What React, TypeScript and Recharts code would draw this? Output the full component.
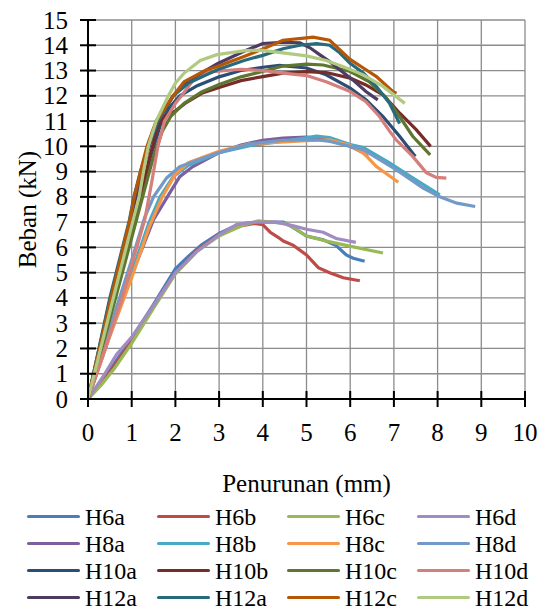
import { LineChart, Line, XAxis, YAxis, CartesianGrid, Label } from "recharts";

type Pt = { x: number; y: number };
const pts = (a: number[][]): Pt[] => a.map(([x, y]) => ({ x, y }));

const X_TICKS = [0, 1, 2, 3, 4, 5, 6, 7, 8, 9, 10];
const Y_TICKS = [0, 1, 2, 3, 4, 5, 6, 7, 8, 9, 10, 11, 12, 13, 14, 15];

const H6a = pts([[0, 0], [0.3, 0.7], [0.6, 1.4], [1, 2.4], [1.5, 3.75], [2, 5.15], [2.3, 5.65], [2.6, 6.1], [3, 6.55], [3.3, 6.8], [3.6, 6.95], [4, 7.0], [4.47, 7.0], [4.66, 6.82], [5.0, 6.45], [5.38, 6.3], [5.68, 6.07], [5.91, 5.7], [6.07, 5.57], [6.33, 5.45]]);
const H6b = pts([[0, 0], [0.3, 0.6], [0.6, 1.3], [1, 2.3], [1.5, 3.7], [2, 5.0], [2.5, 5.9], [3, 6.5], [3.5, 6.85], [3.8, 6.95], [4.0, 6.9], [4.17, 6.6], [4.35, 6.4], [4.47, 6.25], [4.7, 6.08], [5.0, 5.7], [5.27, 5.2], [5.53, 5.0], [5.84, 4.8], [6.22, 4.68]]);
const H6c = pts([[0, 0], [0.3, 0.55], [0.6, 1.2], [1, 2.2], [1.5, 3.6], [2, 4.95], [2.5, 5.85], [3, 6.45], [3.5, 6.85], [3.9, 7.05], [4.2, 7.0], [4.5, 6.95], [4.7, 6.8], [5.0, 6.45], [5.46, 6.25], [6.07, 6.02], [6.75, 5.78]]);
const H6d = pts([[0, 0], [0.35, 0.9], [0.65, 1.75], [1, 2.45], [1.5, 3.7], [2, 5.0], [2.5, 5.85], [3, 6.5], [3.4, 6.9], [3.8, 7.0], [4.3, 7.0], [4.7, 6.85], [5.0, 6.72], [5.38, 6.6], [5.68, 6.35], [6.13, 6.2]]);

const H8a = pts([[0, 0], [0.5, 2.5], [1, 4.9], [1.5, 7.1], [1.85, 8.1], [2.1, 8.8], [2.4, 9.2], [3, 9.75], [3.5, 10.05], [4, 10.24], [4.46, 10.33], [5, 10.37], [5.45, 10.28], [6.0, 10.0], [6.3, 9.74], [6.4, 9.6]]);
const H8b = pts([[0, 0], [0.5, 2.6], [1, 5.0], [1.4, 7.0], [1.65, 8.0], [1.95, 8.8], [2.3, 9.25], [3, 9.75], [3.7, 10.03], [4.46, 10.2], [5.23, 10.4], [5.53, 10.35], [6.0, 10.07], [6.3, 9.95], [6.9, 9.35], [7.43, 8.75], [8.05, 8.08]]);
const H8c = pts([[0, 0], [0.5, 2.5], [1, 4.8], [1.4, 6.8], [1.7, 8.0], [2.0, 8.9], [2.3, 9.35], [3, 9.8], [3.7, 10.1], [4.3, 10.16], [5, 10.22], [5.53, 10.26], [6, 10.03], [6.3, 9.74], [6.6, 9.2], [7.1, 8.58]]);
const H8d = pts([[0, 0], [0.5, 2.8], [1, 5.5], [1.3, 7.2], [1.5, 8.0], [1.8, 8.75], [2.1, 9.2], [2.5, 9.45], [3, 9.75], [3.7, 10.1], [4.46, 10.24], [5.23, 10.26], [5.54, 10.19], [6.3, 9.87], [7.06, 9.07], [7.67, 8.35], [8.05, 8.0], [8.44, 7.75], [8.86, 7.62]]);

const H10a = pts([[0, 0], [0.55, 4], [1.2, 8], [1.45, 9.7], [1.65, 10.8], [1.85, 11.5], [2.1, 12.0], [2.5, 12.4], [3, 12.75], [3.5, 13.0], [4, 13.13], [4.38, 13.2], [5, 13.1], [5.45, 12.83], [6.0, 12.3], [6.36, 11.84], [6.75, 11.18], [7.13, 10.4], [7.49, 9.6]]);
const H10b = pts([[0, 0], [0.6, 4], [1.2, 8], [1.4, 9.5], [1.6, 10.8], [1.75, 11.2], [2.0, 11.4], [2.22, 11.7], [2.6, 12.1], [3.0, 12.33], [3.5, 12.6], [4.0, 12.76], [4.46, 12.9], [5.0, 12.96], [5.45, 12.92], [6.0, 12.7], [6.36, 12.43], [6.75, 12.04], [7.14, 11.3], [7.51, 10.66], [7.84, 10.0]]);
const H10c = pts([[0, 0], [0.6, 3.8], [1.25, 8], [1.5, 9.6], [1.7, 10.6], [1.9, 11.2], [2.2, 11.7], [2.6, 12.15], [3, 12.45], [3.5, 12.75], [4, 12.96], [4.46, 13.18], [5, 13.25], [5.38, 13.22], [6.0, 12.96], [6.43, 12.56], [6.8, 11.97], [7.13, 11.18], [7.43, 10.4], [7.83, 9.66]]);
const H10d = pts([[0, 0], [0.78, 4], [1.3, 7.1], [1.45, 8.5], [1.6, 10], [1.75, 11], [2.0, 11.7], [2.14, 12.0], [2.4, 12.6], [2.8, 12.95], [3.5, 13.05], [4.0, 13.0], [4.46, 12.9], [5.0, 12.8], [5.45, 12.56], [6.0, 12.17], [6.36, 11.77], [6.67, 11.18], [6.9, 10.6], [7.05, 10.26], [7.43, 9.6], [7.74, 8.96], [7.97, 8.77], [8.2, 8.74]]);

const H12a = pts([[0, 0], [0.5, 3.9], [0.98, 7.1], [1.1, 8], [1.25, 9], [1.4, 10], [1.6, 11], [1.95, 12], [2.3, 12.6], [2.96, 13.27], [3.57, 13.76], [4.0, 14.07], [4.46, 14.12], [4.85, 14.1], [5.08, 13.9], [5.3, 13.63], [5.53, 13.36], [5.76, 13.03], [6.06, 12.63], [6.36, 12.17], [6.63, 11.84]]);
const H12a2 = pts([[0, 0], [0.5, 4.0], [0.95, 7.1], [1.05, 8], [1.2, 9], [1.38, 10], [1.6, 11], [1.95, 12], [2.3, 12.5], [2.96, 13.03], [3.57, 13.4], [4.0, 13.6], [4.46, 13.86], [4.85, 14.0], [5.23, 14.07], [5.53, 14.0], [5.76, 13.7], [5.99, 13.3], [6.3, 12.9], [6.6, 12.37], [6.9, 11.7], [7.13, 10.9]]);
const H12c = pts([[0, 0], [0.5, 3.8], [0.96, 7.1], [1.06, 8], [1.2, 9], [1.35, 10], [1.56, 11], [1.95, 12], [2.2, 12.56], [2.68, 13.0], [2.96, 13.16], [3.57, 13.56], [4.0, 13.85], [4.46, 14.2], [5.0, 14.29], [5.15, 14.32], [5.53, 14.2], [5.76, 13.83], [5.99, 13.45], [6.3, 13.1], [6.6, 12.76], [6.98, 12.16], [7.06, 12.1]]);
const H12d = pts([[0, 0], [0.55, 3.8], [1.05, 7.2], [1.17, 8], [1.27, 9], [1.38, 10], [1.56, 11], [1.84, 12], [2.0, 12.5], [2.2, 12.9], [2.57, 13.4], [2.95, 13.63], [3.6, 13.79], [4.0, 13.8], [4.46, 13.7], [5.0, 13.58], [5.45, 13.4], [5.83, 13.16], [6.3, 12.83], [6.75, 12.37], [7.25, 11.7]]);

const SERIES = [
  { name: "H6a", color: "#4A7EBB", data: H6a },
  { name: "H6b", color: "#BE4B48", data: H6b },
  { name: "H6c", color: "#98B954", data: H6c },
  { name: "H6d", color: "#A08BC2", data: H6d },
  { name: "H8a", color: "#7D5FA0", data: H8a },
  { name: "H8b", color: "#46AAC5", data: H8b },
  { name: "H8c", color: "#F79646", data: H8c },
  { name: "H8d", color: "#7399C6", data: H8d },
  { name: "H10a", color: "#2C4D75", data: H10a },
  { name: "H10b", color: "#772C2A", data: H10b },
  { name: "H10c", color: "#5F7530", data: H10c },
  { name: "H10d", color: "#D47F7C", data: H10d },
  { name: "H12a", color: "#4D3B62", data: H12a },
  { name: "H12a", color: "#276A7C", data: H12a2 },
  { name: "H12c", color: "#B65708", data: H12c },
  { name: "H12d", color: "#B0CB81", data: H12d },
];

const FONT = "Liberation Serif, DejaVu Serif, serif";

const XTick = (props: any) => {
  const { x, y, payload } = props;
  return (
    <g>
      <line x1={x} x2={x} y1={y - 8} y2={y + 8} stroke="#000" strokeWidth={2} />
      <text x={x} y={y + 42} textAnchor="middle" style={{ fontFamily: FONT }} fontSize={25} fill="#000">
        {payload.value}
      </text>
    </g>
  );
};

const YTick = (props: any) => {
  const { x, y, payload } = props;
  return (
    <g>
      <line x1={x - 8} x2={x + 8} y1={y} y2={y} stroke="#000" strokeWidth={2} />
      <text x={x - 20} y={y + 8.5} textAnchor="end" style={{ fontFamily: FONT }} fontSize={25} fill="#000">
        {payload.value}
      </text>
    </g>
  );
};

const YTitle = ({ viewBox }: any) => {
  const cx = 27;
  const cy = viewBox.y + viewBox.height / 2;
  return (
    <text x={cx} y={cy} transform={`rotate(-90 ${cx} ${cy})`} textAnchor="middle" dominantBaseline="central"
      style={{ fontFamily: FONT }} fontSize={25} fill="#000">
      Beban (kN)
    </text>
  );
};

const XTitle = ({ viewBox }: any) => {
  const cx = viewBox.x + viewBox.width / 2;
  return (
    <text x={cx} y={492} textAnchor="middle" style={{ fontFamily: FONT }} fontSize={25} fill="#000">
      Penurunan (mm)
    </text>
  );
};

function ChartLegend() {
  return (
    <div
      style={{
        position: "absolute",
        left: 27,
        top: 503,
        display: "grid",
        gridTemplateColumns: "repeat(4, 130px)",
        gridAutoRows: "27px",
        fontFamily: FONT,
        fontSize: 24,
        lineHeight: 1,
      }}
    >
      {SERIES.map((s, i) => (
        <div key={i} style={{ display: "flex", alignItems: "center", whiteSpace: "nowrap" }}>
          <span style={{ display: "inline-block", width: 53, height: 3.5, borderRadius: 2, background: s.color, marginRight: 5 }} />
          <span>{s.name}</span>
        </div>
      ))}
    </div>
  );
}

export default function App() {
  return (
    <div style={{ position: "relative", width: 546, height: 610, background: "#fff", overflow: "hidden" }}>
      <style>{"body{margin:0}"}</style>
      <LineChart width={546} height={610} margin={{ top: 20, right: 21, bottom: 110, left: 28 }}>
        <CartesianGrid stroke="#8c8c8c" strokeWidth={1.3} />
        <XAxis
          type="number"
          dataKey="x"
          domain={[0, 10]}
          ticks={X_TICKS}
          allowDataOverflow
          height={101}
          tickSize={0}
          tickMargin={0}
          tickLine={false}
          axisLine={{ stroke: "#000", strokeWidth: 2 }}
          tick={<XTick />}
          interval={0}
        >
          <Label content={XTitle} />
        </XAxis>
        <YAxis
          type="number"
          domain={[0, 15]}
          ticks={Y_TICKS}
          allowDataOverflow
          width={60}
          tickSize={0}
          tickMargin={0}
          tickLine={false}
          axisLine={{ stroke: "#000", strokeWidth: 2 }}
          tick={<YTick />}
          interval={0}
        >
          <Label content={YTitle} />
        </YAxis>
        {SERIES.map((s, i) => (
          <Line
            key={i}
            data={s.data}
            dataKey="y"
            name={s.name}
            type="linear"
            stroke={s.color}
            strokeWidth={3.2}
            dot={false}
            isAnimationActive={false}
          />
        ))}
      </LineChart>
      <ChartLegend />
    </div>
  );
}
